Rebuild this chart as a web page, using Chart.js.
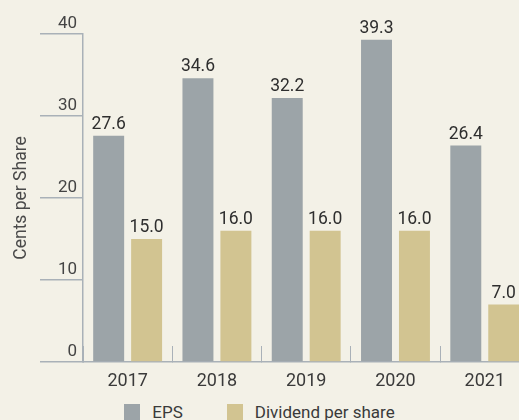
<!DOCTYPE html>
<html>
<head>
<meta charset="utf-8">
<script src="https://cdn.jsdelivr.net/npm/chart.js@4"></script>
<style>
  html, body { margin: 0; padding: 0; background: #f3f1e7; overflow: hidden; }
  #wrap { width: 530px; height: 393px; position: relative; }
  #legend { position: absolute; top: 404px; left: 0; width: 519px; display: flex; justify-content: center;
            font: 17px Roboto; color: #3a3a3a; }
  #legend .item { display: flex; align-items: center; margin: 0 22px; line-height: 16px; }
  #legend .box { width: 16px; height: 16px; margin-right: 12px; }
</style>
</head>
<body>
<div id="wrap"><canvas id="myChart"></canvas></div>
<div id="legend"></div>
<script>
var years = ['2017', '2018', '2019', '2020', '2021'];
var eps = [27.6, 34.6, 32.2, 39.3, 26.4];
var dividend = [15.0, 16.0, 16.0, 16.0, 7.0];
var yTicks = [0, 10, 20, 30, 40];

var axisColor = '#a9b1b8';
var textColor = '#3a3a3a';

// value labels above each bar
var valueLabels = {
    id: 'valueLabels',
    afterDatasetsDraw: function(chart) {
        var ctx = chart.ctx;
        ctx.save();
        ctx.font = '17.5px Roboto';
        ctx.fillStyle = '#2e2e2e';
        ctx.textAlign = 'center';
        ctx.textBaseline = 'alphabetic';
        chart.data.datasets.forEach(function(ds, i) {
            chart.getDatasetMeta(i).data.forEach(function(bar, j) {
                ctx.fillText(ds.data[j].toFixed(1), bar.x, bar.y - 7);
            });
        });
        ctx.restore();
    }
};

// html legend built from the chart's own legend items
var htmlLegend = {
    id: 'htmlLegend',
    afterUpdate: function(chart) {
        var box = document.getElementById('legend');
        box.innerHTML = '';
        chart.options.plugins.legend.labels.generateLabels(chart).forEach(function(item) {
            var el = document.createElement('div');
            el.className = 'item';
            var sw = document.createElement('span');
            sw.className = 'box';
            sw.style.background = item.fillStyle;
            el.appendChild(sw);
            el.appendChild(document.createTextNode(item.text));
            box.appendChild(el);
        });
    }
};

document.addEventListener('DOMContentLoaded', function() {
    var ctx = document.getElementById('myChart').getContext('2d');
    var myChart = new Chart(ctx, {
        type: 'bar',
        data: {
            labels: years,
            datasets: [{
                label: 'EPS',
                data: eps,
                backgroundColor: '#9ca4a8'
            },
            {
                label: 'Dividend per share',
                data: dividend,
                backgroundColor: '#d2c491'
            }]
        },
        options: {
            responsive: true,
            maintainAspectRatio: false,
            animation: false,
            categoryPercentage: 0.85,
            barPercentage: 0.816,
            layout: { padding: { top: 34, left: 0, right: 0, bottom: 0 } },
            plugins: {
                tooltip: { enabled: false },
                legend: { display: false }
            },
            scales: {
                x: {
                    afterFit: function(axis) {
                        axis.height = 31;
                    },
                    grid: {
                        display: true,
                        drawOnChartArea: false,
                        tickLength: -16,
                        color: axisColor
                    },
                    border: { color: axisColor, width: 1.5 },
                    ticks: {
                        color: textColor,
                        padding: 25,
                        autoSkip: false,
                        maxRotation: 0,
                        font: { family: 'Roboto', size: 18 }
                    }
                },
                y: {
                    min: 0,
                    max: 40,
                    afterBuildTicks: function(axis) {
                        axis.ticks = yTicks.map(function(v) { return { value: v }; });
                    },
                    afterFit: function(axis) {
                        axis.width = 83;
                    },
                    grid: {
                        display: true,
                        drawOnChartArea: false,
                        tickLength: 43,
                        color: axisColor,
                        lineWidth: 1.5
                    },
                    border: { color: axisColor, width: 1.5 },
                    ticks: {
                        color: '#444',
                        padding: -37,
                        labelOffset: -10,
                        font: { family: 'Roboto', size: 17 }
                    },
                    title: {
                        display: true,
                        text: 'Cents per Share',
                        color: '#4a4a4a',
                        padding: { top: 11, bottom: 0 },
                        font: { family: 'Roboto', size: 17.5 }
                    }
                }
            }
        },
        plugins: [valueLabels, htmlLegend]
    });
});
</script>
</body>
</html>
